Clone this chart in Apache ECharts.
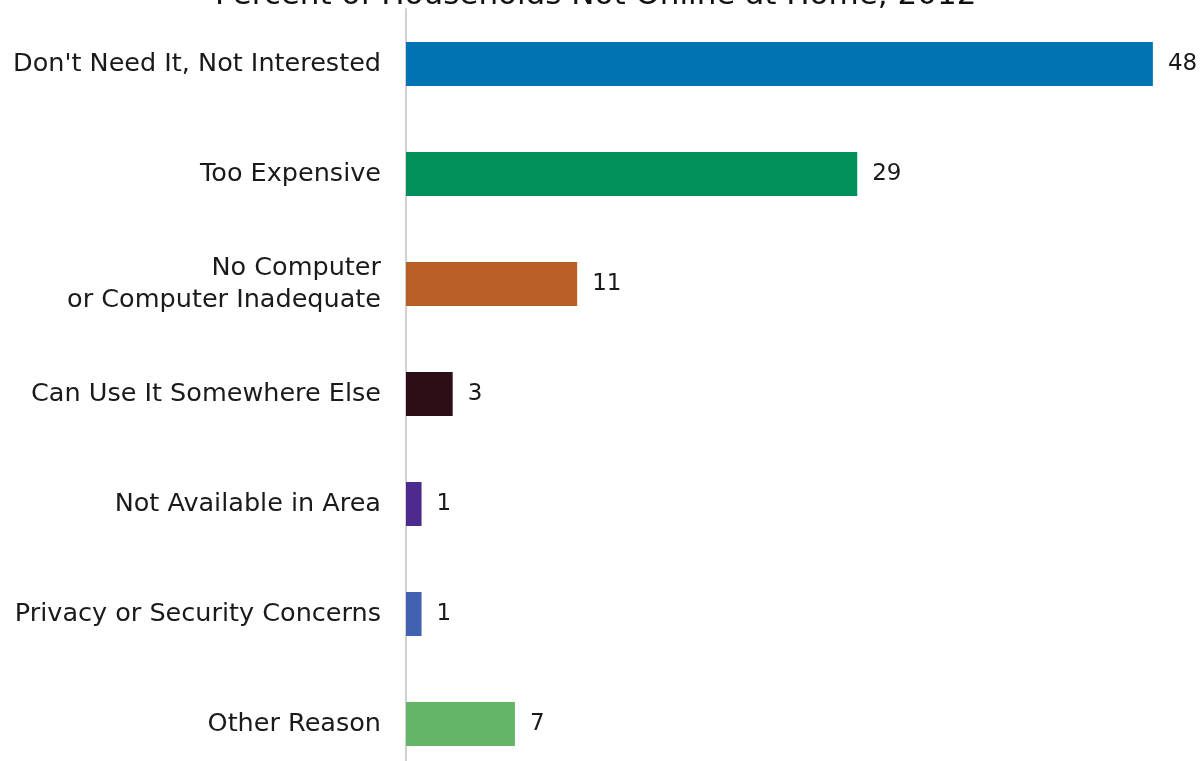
<!DOCTYPE html>
<html>
<head>
<meta charset="utf-8">
<style>
  html, body { margin: 0; padding: 0; background: #fff; overflow: hidden; }
  /* drawing area runs a little past the bottom of the window */
  #chart { width: 1203px; height: 779px; }
</style>
<script src="https://cdn.jsdelivr.net/npm/echarts@6/dist/echarts.min.js"></script>
</head>
<body>
<div id="chart"></div>
<script>
// Reasons households are not online at home (percent), 2012
const titleText = 'Percent of Households Not Online at Home, 2012';
const reasons = [
  "Don't Need It, Not Interested",
  'Too Expensive',
  'No Computer\nor Computer Inadequate',
  'Can Use It Somewhere Else',
  'Not Available in Area',
  'Privacy or Security Concerns',
  'Other Reason'
];
const percents = [48, 29, 11, 3, 1, 1, 7];
const barColors = ['#0173b2', '#01905a', '#b85f27', '#2d0e16', '#4d2b8e', '#4261b0', '#63b567'];

const FONT = 'DejaVu Sans';
const chart = echarts.init(document.getElementById('chart'), null, { renderer: 'canvas' });

chart.setOption({
  animation: false,
  backgroundColor: '#ffffff',
  title: {
    text: titleText,
    left: 210,
    top: -25,
    textStyle: { fontFamily: FONT, fontSize: 31, fontWeight: 'normal', color: '#111' }
  },
  grid: { left: 406, right: 19, top: 9, bottom: 0, containLabel: false },
  xAxis: {
    type: 'value',
    min: 0,
    max: 50,
    show: false
  },
  yAxis: {
    type: 'category',
    data: reasons,
    inverse: true,
    axisLine: { show: true, lineStyle: { color: '#d0d0d0', width: 2 } },
    axisTick: { show: false },
    axisLabel: {
      margin: 25,
      fontFamily: FONT,
      fontSize: 25.5,
      lineHeight: 32,
      color: '#1a1a1a',
      align: 'right'
    }
  },
  series: [{
    type: 'bar',
    data: percents.map((v, i) => ({ value: v, itemStyle: { color: barColors[i] } })),
    barWidth: 44,
    label: {
      show: true,
      position: 'right',
      distance: 15,
      fontFamily: FONT,
      fontSize: 23,
      color: '#1a1a1a'
    }
  }]
});
</script>
</body>
</html>
